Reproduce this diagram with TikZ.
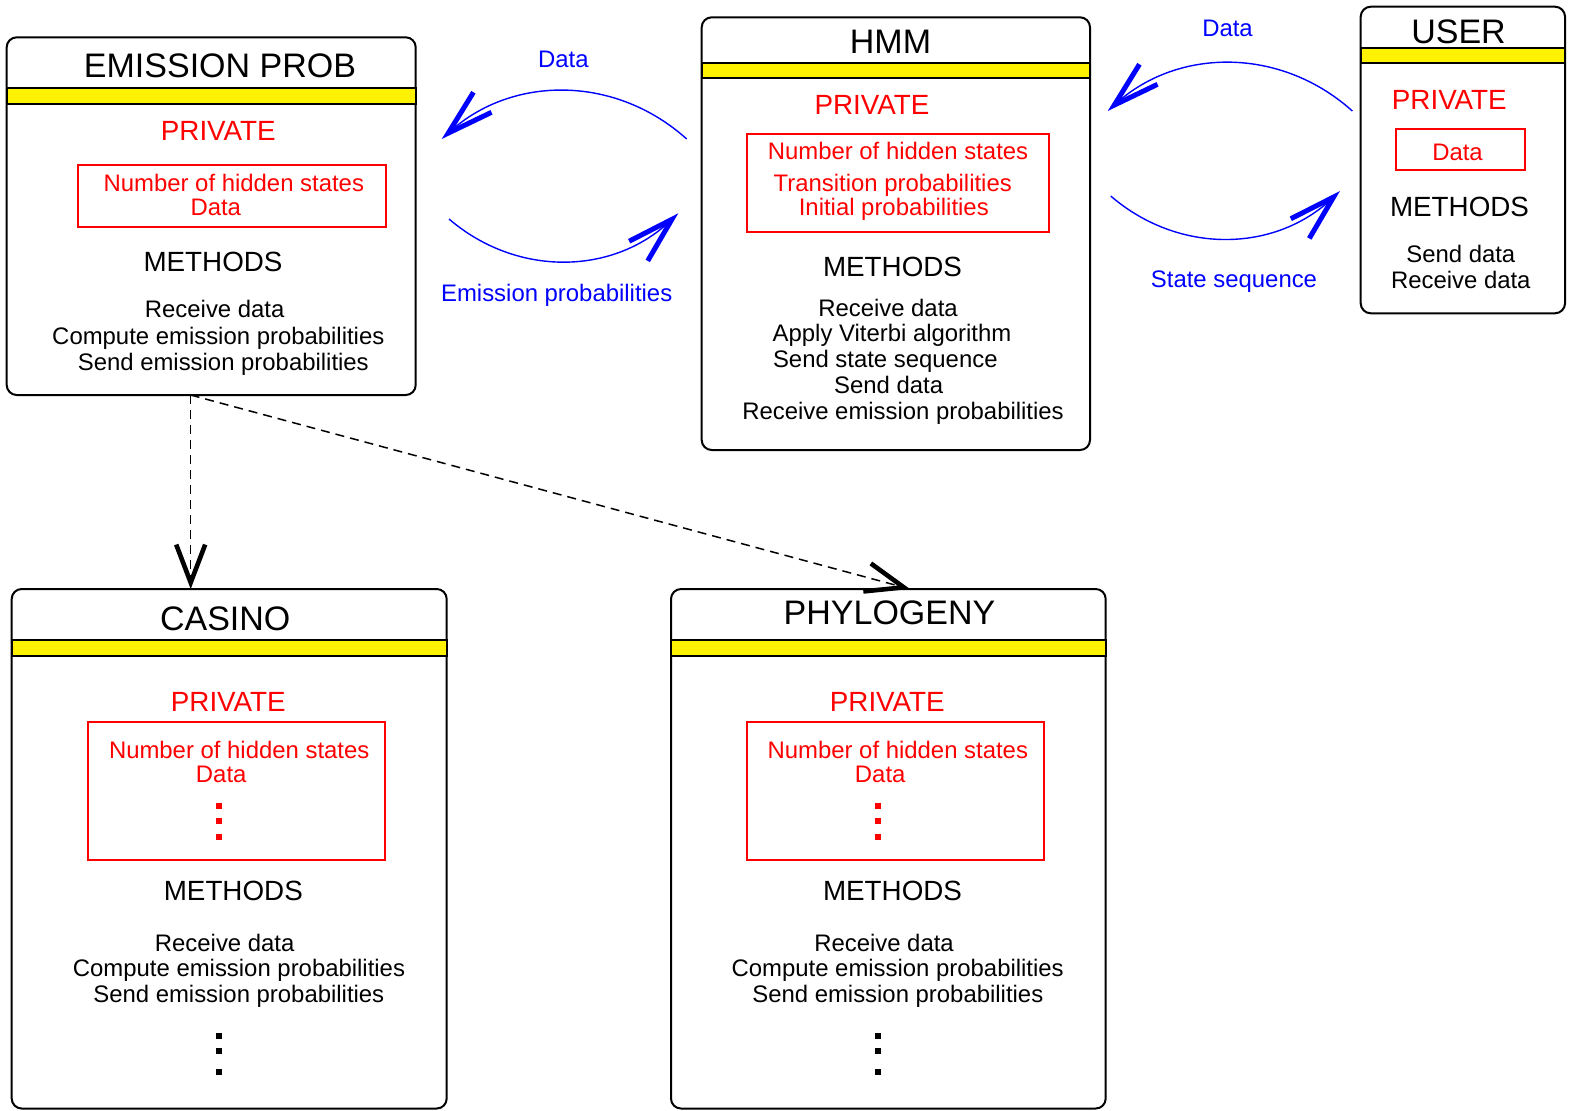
\documentclass[tikz,border=0pt]{standalone}
\usepackage{fontspec}
\setmainfont{Liberation Sans}
\usetikzlibrary{arrows.meta,fit}

\tikzset{
    box/.style={draw, line width=1pt, rounded corners=5pt, inner sep=0pt, outer sep=0pt},
    privbox/.style={draw=red, line width=1pt, inner sep=0pt, outer sep=0pt},
    band/.style={fill=yellow, draw=black, line width=1pt},
    cname/.style={anchor=base, inner sep=0pt, font=\fontsize{17}{19}\selectfont},
    sect/.style={anchor=base, inner sep=0pt, font=\fontsize{13.9}{16}\selectfont},
    txt/.style={anchor=base, inner sep=0pt, font=\fontsize{11.95}{14}\selectfont},
    msg/.style={draw=blue, line width=0.7pt, -{Straight Barb[length=23pt, width=13.5pt, line width=2.5pt]}},
    inherit/.style={draw, line width=0.75pt, dash pattern=on 4.5pt off 3pt,
        -{Straight Barb[length=19pt, width=14.5pt, line width=2.3pt]}}
}

\begin{document}
\begin{tikzpicture}[x=0.5pt, y=-0.5pt]
    \useasboundingbox (0,0) rectangle (1572,1110);
    % classes
    \path node[box, fit={(6.7,37.3) (415.7,395)}] (emis) {}
        node[box, fit={(701.7,17.3) (1090,450)}] (hmm) {}
        node[box, fit={(1360.7,6.7) (1565,313.3)}] (user) {}
        node[box, fit={(11.7,589) (446.7,1108.5)}] (casino) {}
        node[box, fit={(671,589) (1105.7,1108.5)}] (phylo) {};
    \foreach \b/\y in {emis/88.3, hmm/62.7, user/47.7, casino/640.2, phylo/640.2}
        \draw[band] (\b.west |- 0,\y) rectangle (\b.east |- 0,\y+15.7);
    \path node[privbox, fit={(78,165) (385.7,226.7)}] (emisR) {}
        node[privbox, fit={(747.3,134.3) (1049.3,231.7)}] (hmmR) {}
        node[privbox, fit={(1396,129) (1524.7,170.3)}] (userR) {}
        node[privbox, fit={(88.3,722) (385.3,859.9)}] (casinoR) {}
        node[privbox, fit={(747.3,722) (1044.3,859.9)}] (phyloR) {};

    % EMISSION PROB
    \path node[cname] (emisT) at (220,77) {EMISSION PROB}
        node[sect, red] (emisP) at (218.3,140) {PRIVATE}
        node[txt, red] (emisN) at (233.8,191.7) {Number of hidden states}
        node[txt, red] (emisD) at (215.8,215) {Data}
        node[sect] (emisM) at (213,271.7) {METHODS}
        node[txt] (emis1) at (214.7,317.3) {Receive data}
        node[txt] (emis2) at (218.3,344.3) {Compute emission probabilities}
        node[txt] (emis3) at (223.3,370) {Send emission probabilities};

    % HMM
    \path node[cname] (hmmT) at (890.5,53.3) {HMM}
        node[sect, red] (hmmP) at (872,114) {PRIVATE}
        node[txt, red] (hmmN) at (898,159.3) {Number of hidden states}
        node[txt, red] (hmmA) at (892.7,191) {Transition probabilities}
        node[txt, red] (hmmI) at (893.8,215) {Initial probabilities}
        node[sect] (hmmM) at (892.5,276) {METHODS}
        node[txt] (hmm1) at (888,316) {Receive data}
        node[txt] (hmm2) at (892,341.7) {Apply Viterbi algorithm}
        node[txt] (hmm3) at (885.3,367.7) {Send state sequence}
        node[txt] (hmm4) at (888.7,393.3) {Send data}
        node[txt] (hmm5) at (903,419) {Receive emission probabilities};

    % USER
    \path node[cname] (userT) at (1458.5,43.3) {USER}
        node[sect, red] (userP) at (1449.3,109) {PRIVATE}
        node[txt, red] (userD) at (1457.5,160) {Data}
        node[sect] (userM) at (1459.5,216) {METHODS}
        node[txt] (user1) at (1460.8,262.3) {Send data}
        node[txt] (user2) at (1460.8,288.3) {Receive data};

    % CASINO
    \path node[cname] (casinoT) at (225.2,630.7) {CASINO}
        node[sect, red] (casinoP) at (228.3,711.8) {PRIVATE}
        node[txt, red] (casinoN) at (239.2,758.2) {Number of hidden states}
        node[txt, red] (casinoD) at (221.2,782.8) {Data}
        node[sect] (casinoM) at (233.3,900.5) {METHODS}
        node[txt] (casino1) at (224.7,951.9) {Receive data}
        node[txt] (casino2) at (239,976.6) {Compute emission probabilities}
        node[txt] (casino3) at (238.8,1002.6) {Send emission probabilities};

    % PHYLOGENY
    \path node[cname] (phyloT) at (889.5,624.9) {PHYLOGENY}
        node[sect, red] (phyloP) at (887.3,711.8) {PRIVATE}
        node[txt, red] (phyloN) at (897.8,758.2) {Number of hidden states}
        node[txt, red] (phyloD) at (880.2,782.8) {Data}
        node[sect] (phyloM) at (892.5,900.5) {METHODS}
        node[txt] (phylo1) at (884,951.9) {Receive data}
        node[txt] (phylo2) at (897.7,976.6) {Compute emission probabilities}
        node[txt] (phylo3) at (897.8,1002.6) {Send emission probabilities};

    % dots
    \foreach \x in {218.8, 877.8} {
        \foreach \y in {805.9, 820.7, 836.9}
            \fill[red] (\x-3,\y-3) rectangle (\x+3,\y+3);
        \foreach \y in {1035.7, 1050.9, 1071.9}
            \fill (\x-3,\y-3) rectangle (\x+3,\y+3);
    }

    % messages
    \coordinate (hmmOut) at (686.7,139);
    \coordinate (emisIn) at (441.7,139);
    \coordinate (emisOut) at (449,219);
    \coordinate (hmmIn) at (678.3,213.3);
    \coordinate (userOut) at (1352.3,111);
    \coordinate (hmmIn2) at (1107.7,111);
    \coordinate (hmmOut2) at (1110.7,196);
    \coordinate (userIn) at (1340,191);
    \draw[msg] (hmmOut) to[bend right=42] (emisIn);
    \draw[msg] (emisOut) to[bend right=42] (hmmIn);
    \draw[msg] (userOut) to[bend right=42] (hmmIn2);
    \draw[msg] (hmmOut2) to[bend right=42] (userIn);
    \path node[txt, blue] (lData) at (563.3,67.7) {Data}
        node[txt, blue] (lEmis) at (556.7,301.7) {Emission probabilities}
        node[txt, blue] (lData2) at (1227.5,36.7) {Data}
        node[txt, blue] (lState) at (1234,287.3) {State sequence};

    % inheritance
    \coordinate (inh) at (emis.south -| 190.7,0);
    \coordinate (phyloTip) at (phylo.north -| 910,0);
    \draw[inherit] (inh) -- (inh |- casino.north);
    \draw[inherit] (inh) -- (phyloTip);
\end{tikzpicture}
\end{document}
